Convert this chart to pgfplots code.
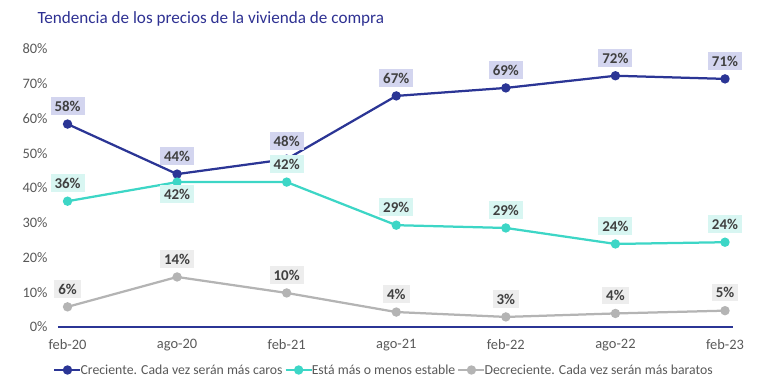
\documentclass[border=0pt]{standalone}
\usepackage{pgfplots}
\pgfplotsset{compat=1.18}
\usepackage{pgfplotstable}
\usepackage{fontspec}
\setmainfont{Carlito}
\definecolor{navy}{HTML}{2B3595}
\definecolor{teal2}{HTML}{3DD6C6}
\definecolor{gray2}{HTML}{B4B4B4}
\definecolor{navyL}{HTML}{D3D5EF}
\definecolor{tealL}{HTML}{D8F6F2}
\definecolor{grayL}{HTML}{EDEDED}
\definecolor{tickc}{HTML}{595959}
\definecolor{labc}{HTML}{404040}
\definecolor{titc}{HTML}{2E3192}

\pgfplotstableread{
x y lab pos
0 58.4 58 1
1 44.0 44 1
2 48.3 48 1
3 66.5 67 1
4 68.8 69 1
5 72.3 72 1
6 71.4 71 1
}\creciente
\pgfplotstableread{
x y lab pos
0 36.2 36 1
1 41.7 42 -0.65
2 41.7 42 1
3 29.3 29 1
4 28.5 29 1
5 23.9 24 1
6 24.4 24 1
}\estable
\pgfplotstableread{
x y lab pos
0 5.8 6 1
1 14.4 14 1
2 9.8 10 1
3 4.3 4 1
4 2.9 3 1
5 3.9 4 1
6 4.7 5 1
}\decreciente

\begin{document}
\begin{tikzpicture}[x=1bp,y=1bp]
\begin{axis}[
  scale only axis,
  width=675bp, height=278bp,
  xmin=-0.087, xmax=6.073,
  ymin=0, ymax=80,
  axis x line*=bottom, axis y line*=left,
  y axis line style={draw=none},
  x axis line style={draw=navy, line width=2bp, -},
  major tick length=0pt,
  xtick={0,...,6},
  xticklabels={feb-20,ago-20,feb-21,ago-21,feb-22,ago-22,feb-23},
  ytick={0,10,...,80},
  yticklabel={\pgfmathprintnumber{\tick}\%},
  /pgf/number format/assume math mode=true,
  tick label style={font=\fontsize{14.5}{16}\selectfont, text=tickc},
  xticklabel style={yshift=-9bp},
  yticklabel style={xshift=-7bp},
  clip=false,
  point meta=explicit,
  nodes near coords={\pgfmathprintnumber{\pgfplotspointmeta}\%},
  every node near coord/.append style={font=\fontsize{15}{17}\selectfont\bfseries, text=labc, inner xsep=4bp, inner ysep=3.5bp, text depth=0pt, text height=10.5bp, anchor=center},
  legend columns=3,
  legend style={at={(rel axis cs:0.483,0)}, anchor=center, yshift=-43bp, draw=none, font=\fontsize{13.8}{15}\selectfont, text=tickc, /tikz/every even column/.append style={column sep=0bp}, inner sep=0pt, /tikz/every odd column/.append style={column sep=-3bp}},
  legend image code/.code={\draw[#1, mark repeat=2, mark phase=2] plot coordinates {(0bp,0bp) (13bp,0bp) (26bp,0bp)};},
]
\addlegendimage{navy, line width=2.25bp, mark=*, mark size=3.5bp}
\addlegendentry{Creciente. Cada vez serán más caros}
\addlegendimage{teal2, line width=2.25bp, mark=*, mark size=3.5bp}
\addlegendentry{Está más o menos estable}
\addlegendimage{gray2, line width=2.25bp, mark=*, mark size=3.5bp}
\addlegendentry{Decreciente. Cada vez serán más baratos}
\addplot[forget plot, navy, line width=2.25bp, mark=*, mark size=3.5bp,
  visualization depends on={\thisrow{pos} \as \lpos},
  every node near coord/.append style={fill=navyL, yshift=\lpos*18bp}]
  table[x=x, y=y, meta=lab] {\creciente};
\addplot[forget plot, teal2, line width=2.25bp, mark=*, mark size=3.5bp,
  visualization depends on={\thisrow{pos} \as \lpos},
  every node near coord/.append style={fill=tealL, yshift=\lpos*18bp}]
  table[x=x, y=y, meta=lab] {\estable};
\addplot[forget plot, gray2, line width=2.25bp, mark=*, mark size=3.5bp,
  every node near coord/.append style={fill=grayL, yshift=18bp}]
  table[x=x, y=y, meta=lab] {\decreciente};
\end{axis}
\node[anchor=base west, font=\fontsize{17.2}{19}\selectfont, text=titc] at ([shift={(-24bp,303bp)}]current axis.south west) {Tendencia de los precios de la vivienda de compra};
\pgfresetboundingbox
\path[use as bounding box] ([shift={(-58bp,-60bp)}]current axis.south west) rectangle ([shift={(710bp,327bp)}]current axis.south west);
\end{tikzpicture}
\end{document}
